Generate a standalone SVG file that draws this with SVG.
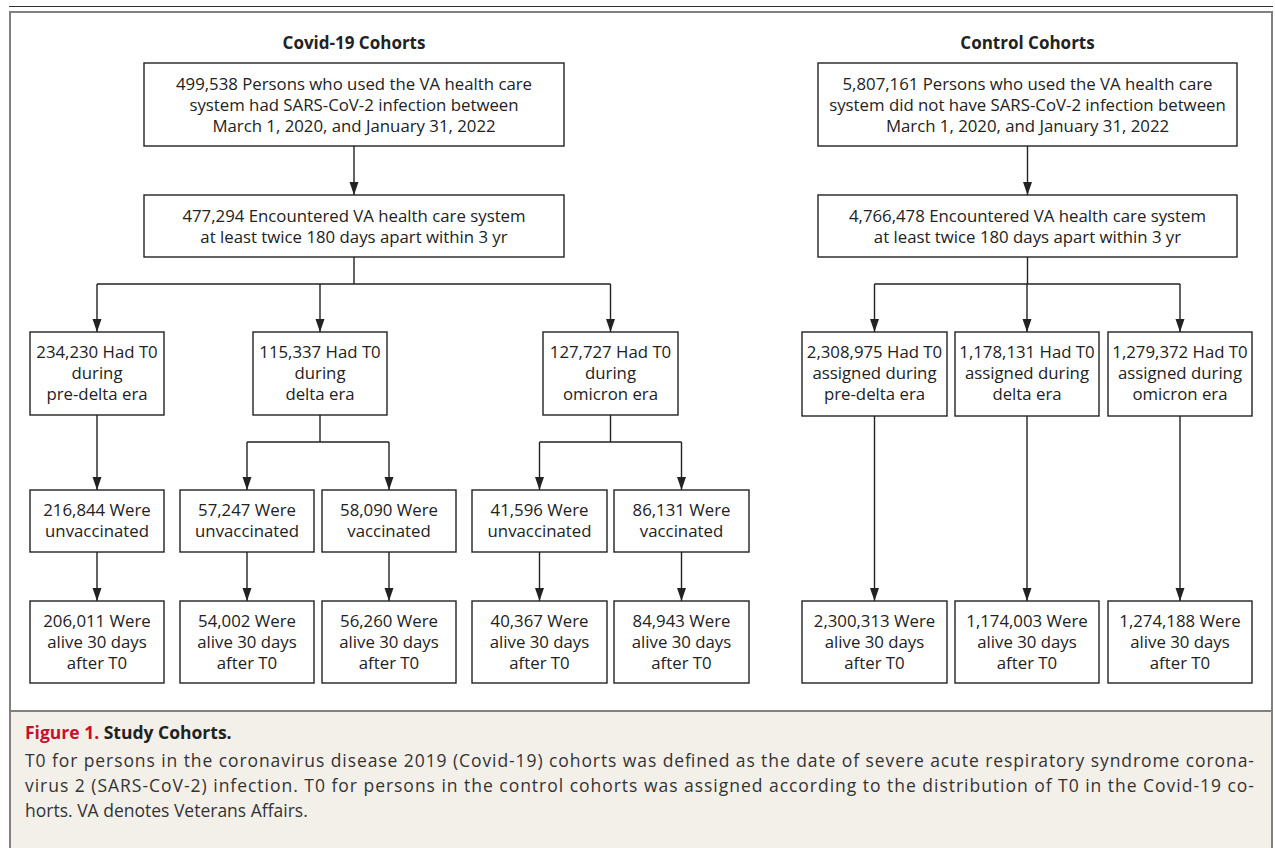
<svg xmlns="http://www.w3.org/2000/svg" width="1275" height="848" viewBox="0 0 1275 848">
<defs>
<marker id="arr" markerUnits="userSpaceOnUse" markerWidth="14" markerHeight="10" refX="13" refY="5" orient="auto" viewBox="0 0 14 10">
<path d="M0,0.5 L13,5 L0,9.5 Z" fill="#222"/>
</marker>
</defs>
<style>
.bx{fill:#fff;stroke:#222;stroke-width:1.4}
.t{font-family:"Open Sans","Noto Sans","Liberation Sans",sans-serif;font-size:16.8px;fill:#222;text-anchor:middle}
.h{font-family:"Open Sans","Noto Sans","Liberation Sans",sans-serif;font-size:17px;font-weight:bold;fill:#222;text-anchor:middle}
.c{font-family:"Open Sans","Noto Sans","Liberation Sans",sans-serif;font-size:17.5px;fill:#333}
.ln{fill:none;stroke:#222;stroke-width:1.4}
.ar{fill:none;stroke:#222;stroke-width:1.4;marker-end:url(#arr)}
</style>
<rect x="0" y="0" width="1275" height="848" fill="#fff"/>
<line x1="9" y1="6.5" x2="1273" y2="6.5" stroke="#333" stroke-width="1.2"/>
<rect x="10" y="12" width="1262" height="699" fill="#fff" stroke="#808080" stroke-width="2"/>
<rect x="10" y="711" width="1262" height="140" fill="#f3f0ea" stroke="#808080" stroke-width="2"/>

<text class="h" x="354" y="49">Covid-19 Cohorts</text>
<text class="h" x="1027.5" y="49">Control Cohorts</text>

<g id="connectors">
<path class="ar" d="M354,146 V195"/>
<path class="ln" d="M354,257 V284 M97,284 H610.5"/>
<path class="ar" d="M97,284 V332"/>
<path class="ar" d="M320,284 V332"/>
<path class="ar" d="M610.5,284 V332"/>
<path class="ar" d="M97,415 V490"/>
<path class="ar" d="M97,552 V601"/>
<path class="ln" d="M320,415 V442 M247,442 H389"/>
<path class="ar" d="M247,442 V490"/>
<path class="ar" d="M389,442 V490"/>
<path class="ar" d="M247,552 V601"/>
<path class="ar" d="M389,552 V601"/>
<path class="ln" d="M610.5,415 V442 M539.5,442 H681.5"/>
<path class="ar" d="M539.5,442 V490"/>
<path class="ar" d="M681.5,442 V490"/>
<path class="ar" d="M539.5,552 V601"/>
<path class="ar" d="M681.5,552 V601"/>
<path class="ar" d="M1027.5,146 V195"/>
<path class="ln" d="M1027.5,257 V284 M874.5,284 H1180"/>
<path class="ar" d="M874.5,284 V332"/>
<path class="ar" d="M1027,284 V332"/>
<path class="ar" d="M1180,284 V332"/>
<path class="ar" d="M874.5,416 V601"/>
<path class="ar" d="M1027,416 V601"/>
<path class="ar" d="M1180,416 V601"/>
</g>

<g id="covid-total">
<rect class="bx" x="144" y="63" width="420" height="83"/>
<text class="t" x="354" y="90">499,538 Persons who used the VA health care</text>
<text class="t" x="354" y="111">system had SARS-CoV-2 infection between</text>
<text class="t" x="354" y="132">March 1, 2020, and January 31, 2022</text>
</g>
<g id="covid-encountered">
<rect class="bx" x="144" y="195" width="420" height="62"/>
<text class="t" x="354" y="222">477,294 Encountered VA health care system</text>
<text class="t" x="354" y="243">at least twice 180 days apart within 3 yr</text>
</g>
<g id="covid-predelta">
<rect class="bx" x="30" y="332" width="134" height="83"/>
<text class="t" x="97" y="358">234,230 Had T0</text>
<text class="t" x="97" y="379">during</text>
<text class="t" x="97" y="400">pre-delta era</text>
</g>
<g id="covid-delta">
<rect class="bx" x="253" y="332" width="134" height="83"/>
<text class="t" x="320" y="358">115,337 Had T0</text>
<text class="t" x="320" y="379">during</text>
<text class="t" x="320" y="400">delta era</text>
</g>
<g id="covid-omicron">
<rect class="bx" x="543" y="332" width="135" height="83"/>
<text class="t" x="610.5" y="358">127,727 Had T0</text>
<text class="t" x="610.5" y="379">during</text>
<text class="t" x="610.5" y="400">omicron era</text>
</g>
<g id="predelta-unvacc">
<rect class="bx" x="30" y="490" width="134" height="62"/>
<text class="t" x="97" y="516">216,844 Were</text>
<text class="t" x="97" y="537">unvaccinated</text>
</g>
<g id="delta-unvacc">
<rect class="bx" x="180" y="490" width="134" height="62"/>
<text class="t" x="247" y="516">57,247 Were</text>
<text class="t" x="247" y="537">unvaccinated</text>
</g>
<g id="delta-vacc">
<rect class="bx" x="322" y="490" width="134" height="62"/>
<text class="t" x="389" y="516">58,090 Were</text>
<text class="t" x="389" y="537">vaccinated</text>
</g>
<g id="omicron-unvacc">
<rect class="bx" x="472" y="490" width="135" height="62"/>
<text class="t" x="539.5" y="516">41,596 Were</text>
<text class="t" x="539.5" y="537">unvaccinated</text>
</g>
<g id="omicron-vacc">
<rect class="bx" x="614" y="490" width="135" height="62"/>
<text class="t" x="681.5" y="516">86,131 Were</text>
<text class="t" x="681.5" y="537">vaccinated</text>
</g>
<g id="predelta-unvacc-alive">
<rect class="bx" x="30" y="601" width="134" height="82"/>
<text class="t" x="97" y="627">206,011 Were</text>
<text class="t" x="97" y="648">alive 30 days</text>
<text class="t" x="97" y="669">after T0</text>
</g>
<g id="delta-unvacc-alive">
<rect class="bx" x="180" y="601" width="134" height="82"/>
<text class="t" x="247" y="627">54,002 Were</text>
<text class="t" x="247" y="648">alive 30 days</text>
<text class="t" x="247" y="669">after T0</text>
</g>
<g id="delta-vacc-alive">
<rect class="bx" x="322" y="601" width="134" height="82"/>
<text class="t" x="389" y="627">56,260 Were</text>
<text class="t" x="389" y="648">alive 30 days</text>
<text class="t" x="389" y="669">after T0</text>
</g>
<g id="omicron-unvacc-alive">
<rect class="bx" x="472" y="601" width="135" height="82"/>
<text class="t" x="539.5" y="627">40,367 Were</text>
<text class="t" x="539.5" y="648">alive 30 days</text>
<text class="t" x="539.5" y="669">after T0</text>
</g>
<g id="omicron-vacc-alive">
<rect class="bx" x="614" y="601" width="135" height="82"/>
<text class="t" x="681.5" y="627">84,943 Were</text>
<text class="t" x="681.5" y="648">alive 30 days</text>
<text class="t" x="681.5" y="669">after T0</text>
</g>

<g id="control-total">
<rect class="bx" x="818" y="63" width="419" height="83"/>
<text class="t" x="1027.5" y="90">5,807,161 Persons who used the VA health care</text>
<text class="t" x="1027.5" y="111">system did not have SARS-CoV-2 infection between</text>
<text class="t" x="1027.5" y="132">March 1, 2020, and January 31, 2022</text>
</g>
<g id="control-encountered">
<rect class="bx" x="818" y="195" width="419" height="62"/>
<text class="t" x="1027.5" y="222">4,766,478 Encountered VA health care system</text>
<text class="t" x="1027.5" y="243">at least twice 180 days apart within 3 yr</text>
</g>
<g id="control-predelta">
<rect class="bx" x="802" y="332" width="145" height="84"/>
<text class="t" x="874.5" y="358">2,308,975 Had T0</text>
<text class="t" x="874.5" y="379">assigned during</text>
<text class="t" x="874.5" y="400">pre-delta era</text>
</g>
<g id="control-delta">
<rect class="bx" x="955" y="332" width="144" height="84"/>
<text class="t" x="1027" y="358">1,178,131 Had T0</text>
<text class="t" x="1027" y="379">assigned during</text>
<text class="t" x="1027" y="400">delta era</text>
</g>
<g id="control-omicron">
<rect class="bx" x="1108" y="332" width="144" height="84"/>
<text class="t" x="1180" y="358">1,279,372 Had T0</text>
<text class="t" x="1180" y="379">assigned during</text>
<text class="t" x="1180" y="400">omicron era</text>
</g>
<g id="control-predelta-alive">
<rect class="bx" x="802" y="601" width="145" height="82"/>
<text class="t" x="874.5" y="627">2,300,313 Were</text>
<text class="t" x="874.5" y="648">alive 30 days</text>
<text class="t" x="874.5" y="669">after T0</text>
</g>
<g id="control-delta-alive">
<rect class="bx" x="955" y="601" width="144" height="82"/>
<text class="t" x="1027" y="627">1,174,003 Were</text>
<text class="t" x="1027" y="648">alive 30 days</text>
<text class="t" x="1027" y="669">after T0</text>
</g>
<g id="control-omicron-alive">
<rect class="bx" x="1108" y="601" width="144" height="82"/>
<text class="t" x="1180" y="627">1,274,188 Were</text>
<text class="t" x="1180" y="648">alive 30 days</text>
<text class="t" x="1180" y="669">after T0</text>
</g>

<g id="caption">
<text class="c" x="25" y="739" font-weight="bold"><tspan fill="#c8102e">Figure 1.</tspan><tspan fill="#222"> Study Cohorts.</tspan></text>
<text class="c" x="25" y="767" textLength="1229" lengthAdjust="spacing">T0 for persons in the coronavirus disease 2019 (Covid-19) cohorts was defined as the date of severe acute respiratory syndrome corona-</text>
<text class="c" x="25" y="792" textLength="1229" lengthAdjust="spacing">virus 2 (SARS-CoV-2) infection. T0 for persons in the control cohorts was assigned according to the distribution of T0 in the Covid-19 co-</text>
<text class="c" x="25" y="817">horts. VA denotes Veterans Affairs.</text>
</g>
</svg>
